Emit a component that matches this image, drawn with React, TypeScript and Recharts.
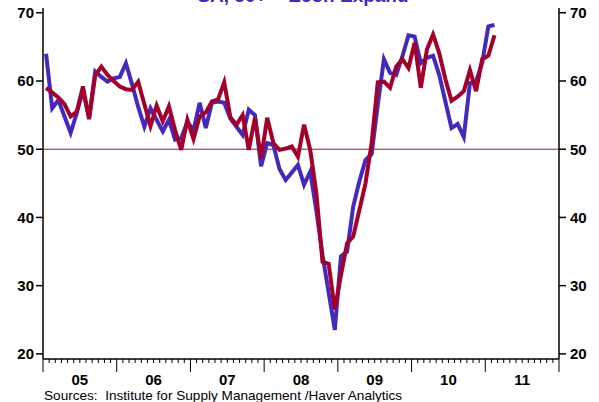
import React from 'react'
import { LineChart, Line, XAxis, YAxis, ReferenceLine } from 'recharts'

// months (first of month), Jan 2005 .. Feb 2011
const months = [
  '2005-01', '2005-02', '2005-03', '2005-04', '2005-05', '2005-06', '2005-07', '2005-08', '2005-09', '2005-10', '2005-11', '2005-12',
  '2006-01', '2006-02', '2006-03', '2006-04', '2006-05', '2006-06', '2006-07', '2006-08', '2006-09', '2006-10', '2006-11', '2006-12',
  '2007-01', '2007-02', '2007-03', '2007-04', '2007-05', '2007-06', '2007-07', '2007-08', '2007-09', '2007-10', '2007-11', '2007-12',
  '2008-01', '2008-02', '2008-03', '2008-04', '2008-05', '2008-06', '2008-07', '2008-08', '2008-09', '2008-10', '2008-11', '2008-12',
  '2009-01', '2009-02', '2009-03', '2009-04', '2009-05', '2009-06', '2009-07', '2009-08', '2009-09', '2009-10', '2009-11', '2009-12',
  '2010-01', '2010-02', '2010-03', '2010-04', '2010-05', '2010-06', '2010-07', '2010-08', '2010-09', '2010-10', '2010-11', '2010-12',
  '2011-01', '2011-02',
]

const bluePmi = [
  64.0, 56.0, 57.2, 54.8, 52.4, 55.3, 58.6, 54.6, 61.4, 60.6, 59.9, 60.4,
  60.6, 62.6, 59.5, 56.2, 53.3, 56.0, 54.3, 52.6, 54.3, 51.4, 51.6, 54.0,
  52.8, 56.8, 53.1, 56.8, 57.0, 56.8, 54.5, 53.3, 52.1, 55.8, 55.0, 47.5,
  50.9, 50.6, 47.1, 45.5, 46.6, 47.7, 44.8, 46.7, 41.0, 34.5, 29.0, 23.5,
  34.3, 35.0, 41.6, 45.3, 48.4, 49.3, 56.5, 63.2, 61.2, 60.9, 63.6, 66.7,
  66.5, 62.6, 63.4, 63.7, 60.9, 57.0, 53.1, 53.7, 51.8, 59.7, 59.9, 62.7,
  68.0, 68.2,
]

const redPmi = [
  59.0, 58.3, 57.6, 56.6, 54.8, 55.5, 59.2, 54.4, 60.8, 62.1, 60.9, 60.0,
  59.2, 58.8, 58.7, 59.9, 56.6, 53.4, 56.4, 54.1, 56.3, 52.8, 49.9, 54.3,
  51.5, 54.8, 55.4, 57.0, 57.3, 59.8, 54.7, 53.6, 55.0, 49.9, 54.6, 48.7,
  54.6, 50.9, 49.9, 50.1, 50.4, 48.9, 53.6, 49.9, 43.6, 33.5, 33.2, 26.5,
  31.5, 36.2, 37.2, 41.1, 45.0, 50.9, 59.8, 59.9, 59.0, 62.1, 63.2, 61.9,
  65.6, 59.0, 64.6, 66.8, 64.1, 60.3, 57.1, 57.7, 58.5, 61.6, 58.5, 63.2,
  63.7, 66.7,
]

const yTicks = [20, 30, 40, 50, 60, 70]
const yearLabels = ['05', '06', '07', '08', '09', '10', '11']

const BLUE = '#4529BE'
const RED = '#A4002A'
const FONT = '"Liberation Sans", Arial, Helvetica, sans-serif'
const Y_DOMAIN = [19.25, 70.7]

// x = months since Jan 2005, plotted mid-month
const data = months.map((m, i) => {
  const [yy, mm] = m.split('-').map(Number)
  return {
    t: (yy - 2005) * 12 + (mm - 1) + 0.5,
    blue: bluePmi[i],
    red: redPmi[i],
  }
})

const monthTicks = Array.from({ length: yearLabels.length * 12 + 1 }, (_, i) => i)

function MonthTick(props: any) {
  const { x, y, payload } = props
  const v = payload.value
  const major = v % 12 === 0
  const label = v % 12 === 6 ? yearLabels[Math.floor(v / 12)] : null
  return (
    <g>
      <line x1={x} x2={x} y1={y} y2={y + (major ? 13 : 4)} stroke="#000" strokeWidth={1} />
      {label && (
        <text x={x} y={y + 26} textAnchor="middle" fontFamily={FONT} fontWeight="bold" fontSize={15} fill="#000">
          {label}
        </text>
      )}
    </g>
  )
}

const tickStyle = { fontFamily: FONT, fontWeight: 'bold', fontSize: 15, fill: '#000' }
const frame = { stroke: '#000', strokeWidth: 1.5 }

export default function App() {
  return (
    <div style={{ position: 'absolute', left: 0, top: 0, width: 599, height: 402, background: '#fff', overflow: 'hidden' }}>
      <div
        style={{
          position: 'absolute', top: -14, left: 0, width: 606, textAlign: 'center',
          fontFamily: FONT, fontWeight: 'bold', fontSize: 19, lineHeight: '19px', color: BLUE,
        }}
      >
        SA, 50+ = Econ Expand
      </div>
      <LineChart width={599} height={402} data={data} margin={{ top: 8, right: 0, bottom: 0, left: 0 }}>
        <XAxis
          xAxisId="bottom"
          type="number"
          dataKey="t"
          domain={[0, 84]}
          ticks={monthTicks}
          interval={0}
          tick={<MonthTick />}
          tickLine={false}
          tickSize={0}
          tickMargin={0}
          axisLine={frame}
          height={43}
        />
        <XAxis xAxisId="top" orientation="top" type="number" domain={[0, 84]} tick={false} tickLine={false} axisLine={frame} height={0} />
        <YAxis
          yAxisId="left"
          type="number"
          domain={Y_DOMAIN}
          allowDataOverflow
          ticks={yTicks}
          interval={0}
          tickSize={7}
          tickMargin={2}
          tick={tickStyle}
          tickLine={{ stroke: '#000', strokeWidth: 1.5 }}
          axisLine={frame}
          width={43}
        />
        <YAxis
          yAxisId="right"
          orientation="right"
          type="number"
          domain={Y_DOMAIN}
          allowDataOverflow
          ticks={yTicks}
          interval={0}
          tickSize={7}
          tickMargin={4}
          tick={tickStyle}
          tickLine={{ stroke: '#000', strokeWidth: 1.5 }}
          axisLine={frame}
          width={40}
        />
        <ReferenceLine xAxisId="bottom" yAxisId="left" y={50} stroke="#8E1B2E" strokeWidth={1} />
        <Line xAxisId="bottom" yAxisId="left" type="linear" dataKey="blue" stroke={BLUE} strokeWidth={4} dot={false} isAnimationActive={false} />
        {/* same scale as the left axis; on the right axis so it gets its ticks */}
        <Line xAxisId="bottom" yAxisId="right" type="linear" dataKey="red" stroke={RED} strokeWidth={4} dot={false} isAnimationActive={false} />
      </LineChart>
      <div
        style={{
          position: 'absolute', left: 44, top: 389, fontFamily: FONT, fontSize: 13.6, lineHeight: '14px', color: '#000', whiteSpace: 'pre',
        }}
      >
        {'Sources:  Institute for Supply Management /Haver Analytics'}
      </div>
    </div>
  )
}
